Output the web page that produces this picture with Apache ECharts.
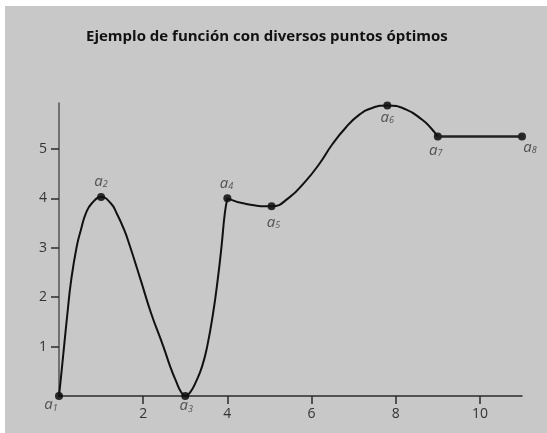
<!DOCTYPE html>
<html>
<head>
<meta charset="utf-8">
<script src="https://cdn.jsdelivr.net/npm/echarts@6/dist/echarts.min.js"></script>
<style>
  html, body { margin: 0; padding: 0; background: #fff; }
  #chart { position: absolute; left: 5px; top: 6px; width: 542px; height: 427px; }
</style>
</head>
<body>
<div id="chart"></div>
<script>
// curve, split at the corners (a4 and a7)
var seg1X = [0, 0.04, 0.12, 0.2, 0.29, 0.42, 0.52, 0.64, 0.78, 1.0, 1.23, 1.37, 1.55, 1.69, 1.94, 2.19, 2.48, 2.64, 2.78, 2.9, 3.0,
             3.12, 3.26, 3.4, 3.52, 3.66, 3.77, 3.86, 3.94, 4.0];
var seg1Y = [0, 0.32, 1.0, 1.67, 2.35, 3.02, 3.36, 3.7, 3.9, 4.03, 3.9, 3.7, 3.36, 3.02, 2.35, 1.67, 1.0, 0.6, 0.3, 0.08, 0,
             0.08, 0.3, 0.6, 1.0, 1.67, 2.35, 3.02, 3.7, 4.0];
var seg2X = [4.0, 4.43, 5.05, 5.46, 5.86, 6.17, 6.49, 6.81, 7.13, 7.44, 7.8, 8.24, 8.63, 8.83, 9.0];
var seg2Y = [4.0, 3.89, 3.84, 4.01, 4.35, 4.68, 5.09, 5.43, 5.69, 5.83, 5.88, 5.8, 5.59, 5.43, 5.25];
var seg3X = [9, 11];
var seg3Y = [5.25, 5.25];

// marked points
var pointNames = ["1", "2", "3", "4", "5", "6", "7", "8"];
var pointX = [0, 1, 3, 4, 5.05, 7.8, 9, 11];
var pointY = [0, 4.03, 0, 4, 3.84, 5.88, 5.25, 5.25];

var xTicks = [2, 4, 6, 8, 10];
var yTicks = [1, 2, 3, 4, 5];

var titleText = "Ejemplo de función con diversos puntos óptimos";

// label offsets around each dot
var labelOffsets = [[-8, 9], [0, -15], [1, 10], [-1, -15], [2, 16], [0, 12], [-2, 14], [8, 11]];

function zip(xs, ys) {
  return xs.map(function (x, i) { return [x, ys[i]]; });
}

var chart = echarts.init(document.getElementById("chart"));
var dark = "#2b2b2b";

var option = {
  backgroundColor: "#c8c8c8",
  animation: false,
  title: {
    text: titleText,
    left: 76,
    top: 18,
    textStyle: {
      fontFamily: "Open Sans",
      fontWeight: "bold",
      fontSize: 15,
      color: "#111"
    }
  },
  grid: { left: 54, right: 25, top: 97, bottom: 37 },
  xAxis: {
    type: "value",
    min: 0,
    max: 11,
    splitLine: { show: false },
    axisLine: { lineStyle: { color: dark, width: 1.5 } },
    axisTick: { customValues: xTicks, length: 8, lineStyle: { color: dark, width: 1.5 } },
    axisLabel: {
      customValues: xTicks,
      margin: 11,
      fontFamily: "Open Sans",
      fontSize: 14,
      color: "#333"
    }
  },
  yAxis: {
    type: "value",
    min: 0,
    max: 5.93,
    splitLine: { show: false },
    axisLine: { show: true, lineStyle: { color: "#555", width: 1.5 } },
    axisTick: { show: true, customValues: yTicks, length: 8, lineStyle: { color: dark, width: 1.5 } },
    axisLabel: {
      customValues: yTicks,
      margin: 12,
      fontFamily: "Open Sans",
      fontSize: 14,
      color: "#333"
    }
  },
  series: [
    {
      type: "line",
      data: zip(seg1X, seg1Y),
      smooth: 0.5,
      showSymbol: false,
      lineStyle: { color: "#111", width: 2 }
    },
    {
      type: "line",
      data: zip(seg2X, seg2Y),
      smooth: 0.5,
      showSymbol: false,
      lineStyle: { color: "#111", width: 2 }
    },
    {
      type: "line",
      data: zip(seg3X, seg3Y),
      showSymbol: false,
      lineStyle: { color: "#222", width: 2.5 }
    },
    {
      type: "scatter",
      symbolSize: 8,
      itemStyle: { color: "#000" },
      data: pointX.map(function (x, i) {
        return {
          value: [x, pointY[i]],
          label: {
            show: true,
            position: "inside",
            offset: labelOffsets[i],
            formatter: "{a|a}{s|" + pointNames[i] + "}",
            rich: {
              a: { fontFamily: "Open Sans", fontStyle: "italic", fontSize: 15, color: "#333", verticalAlign: "bottom" },
              s: { fontFamily: "Open Sans", fontStyle: "italic", fontSize: 9, color: "#333", verticalAlign: "bottom", padding: [6, 0, 0, 0] }
            }
          }
        };
      })
    }
  ]
};

chart.setOption(option);
</script>
</body>
</html>
